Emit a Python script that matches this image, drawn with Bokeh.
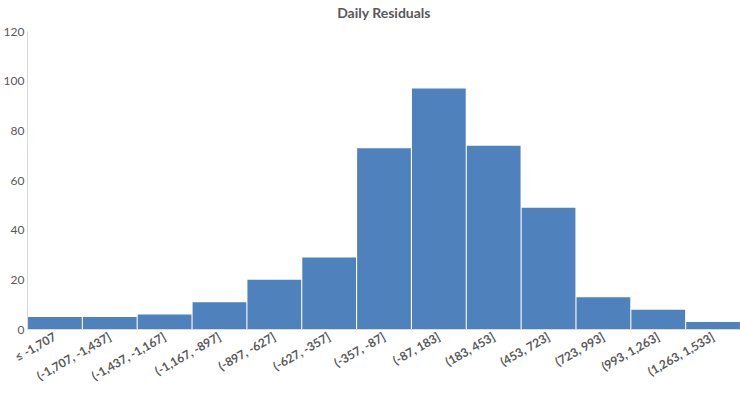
from bokeh.plotting import figure
from bokeh.models import FactorRange, Range1d, FixedTicker
from bokeh.embed import file_html
from bokeh.resources import INLINE

bins = ["≤ -1,707", "(-1,707, -1,437]", "(-1,437, -1,167]", "(-1,167, -897]",
        "(-897, -627]", "(-627, -357]", "(-357, -87]", "(-87, 183]",
        "(183, 453]", "(453, 723]", "(723, 993]", "(993, 1,263]", "(1,263, 1,533]"]
counts = [5, 5, 6, 11, 20, 29, 73, 97, 74, 49, 13, 8, 3]
y_ticks = [0, 20, 40, 60, 80, 100, 120]

FONT = "Lato"
GREY = "#595959"

p = figure(x_range=FactorRange(*bins, range_padding=0), y_range=Range1d(0, 120),
           width=740, height=409, output_backend="svg", toolbar_location=None,
           title="Daily Residuals", margin=(-10, 0, 0, 0),
           min_border_left=27, min_border_right=0, min_border_top=41, min_border_bottom=70)
p.vbar(x=bins, top=counts, width=0.98, fill_color="#4f81bd", line_color=None)

p.title.align = "center"
p.title.offset = -13
p.title.standoff = 21
p.title.text_font = FONT
p.title.text_font_size = "14px"
p.title.text_font_style = "bold"
p.title.text_color = GREY

p.outline_line_color = None
p.xgrid.grid_line_color = None
p.ygrid.grid_line_color = None

p.yaxis.ticker = FixedTicker(ticks=y_ticks)
p.yaxis.axis_line_color = "#d9d9d9"
p.yaxis.major_tick_line_color = None
p.yaxis.minor_tick_line_color = None
p.yaxis.major_tick_out = 0
p.yaxis.minor_tick_out = 0
p.yaxis.major_label_text_font = FONT
p.yaxis.major_label_text_font_size = "12px"
p.yaxis.major_label_text_color = GREY
p.yaxis.major_label_standoff = 3

p.xaxis.axis_line_color = "#d9d9d9"
p.xaxis.major_tick_line_color = None
p.xaxis.minor_tick_line_color = None
p.xaxis.major_tick_out = 0
p.xaxis.minor_tick_out = 0
p.xaxis.major_label_orientation = 0.52
p.xaxis.major_label_text_font = FONT
p.xaxis.major_label_text_font_size = "12px"
p.xaxis.major_label_text_font_style = "bold"
p.xaxis.major_label_text_color = GREY
p.xaxis.major_label_standoff = 6

open("out.html", "w").write(file_html(p, INLINE))
